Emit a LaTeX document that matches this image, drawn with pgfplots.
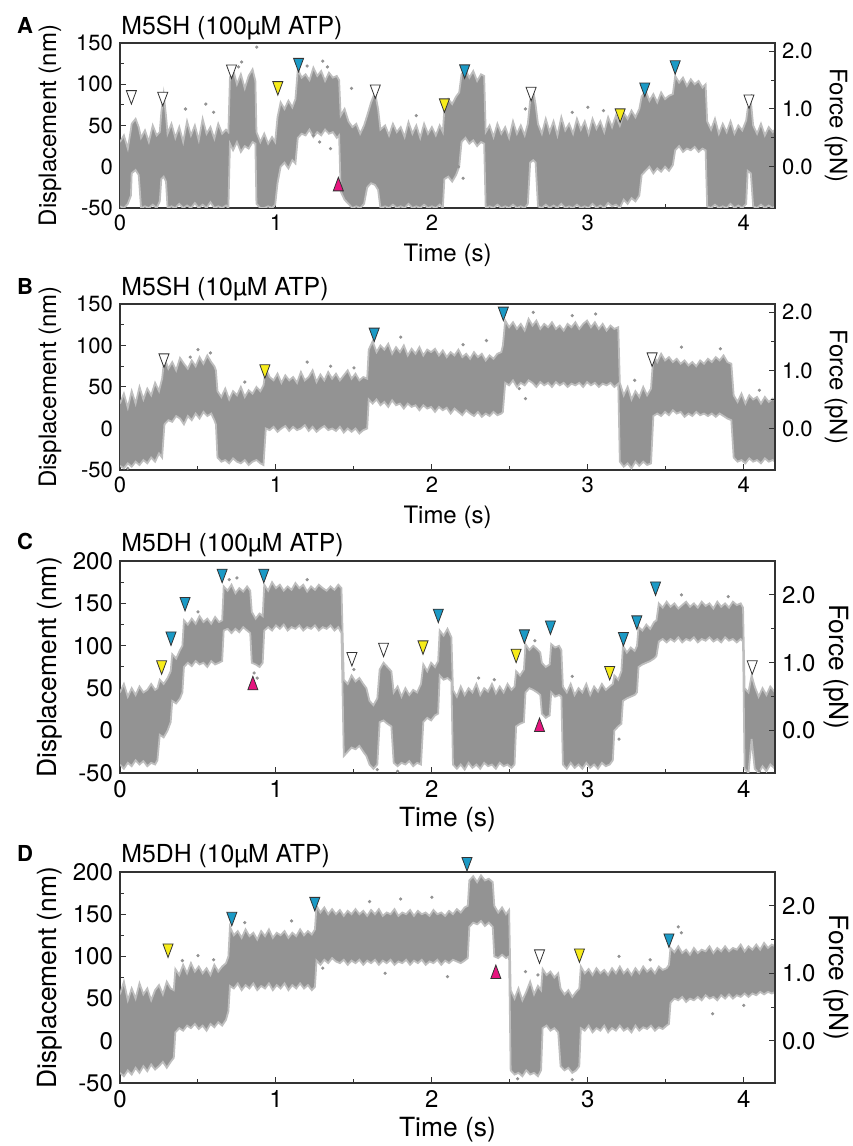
\documentclass[border=0pt]{standalone}
\usepackage{fontspec}
\setmainfont{TeX Gyre Heros}
\usepackage{pgfplots}
\pgfplotsset{compat=1.18}
\usepackage{pgfplotstable}
\usepgfplotslibrary{fillbetween}

\definecolor{trace}{HTML}{939393}
\definecolor{tblue}{HTML}{1B9AC6}
\definecolor{tyellow}{HTML}{F7EC1A}
\definecolor{tpink}{HTML}{E6157F}
\definecolor{edge}{HTML}{333333}

\pgfplotsset{
  panel/.style={scale only axis, width=327.5pt,
    xmin=0, xmax=4.2, xtick={0,...,4}, minor x tick num=1, minor y tick num=1,
    xtick pos=left, ytick pos=left, tick align=inside,
    major tick length=3pt, minor tick length=1.8pt,
    axis line style={line width=0.6pt, edge}, tick style={edge, line width=0.5pt},
    /pgf/number format/assume math mode=true,
    xlabel={Time (s)}, ylabel={Displacement (nm)},
    xlabel style={at={(axis description cs:0.5,0)}, anchor=center, yshift=-23.5pt},
    ylabel style={at={(axis description cs:-0.107,0.5)}, anchor=center}},
  forceax/.style={scale only axis, width=327.5pt,
    xmin=0, xmax=4.2, axis x line=none, axis y line*=right,
    ytick={0,1,2}, minor y tick num=1, tick align=inside,
    major tick length=3pt, minor tick length=1.8pt,
    axis line style={line width=0.6pt, edge}, tick style={edge, line width=0.5pt},
    /pgf/number format/assume math mode=true,
    yticklabel style={/pgf/number format/.cd, fixed, fixed zerofill, precision=1},
    ylabel={Force (pN)},
    ylabel style={at={(axis description cs:1.093,0.5)}, anchor=center, rotate=180}},
  small/.style={tick label style={font=\fontsize{11pt}{13pt}\selectfont},
    label style={font=\fontsize{12pt}{14pt}\selectfont}},
  large/.style={tick label style={font=\fontsize{12pt}{14pt}\selectfont},
    label style={font=\fontsize{13.2pt}{15pt}\selectfont}},
  trc/.style={draw=trace!60, line width=0.9pt},
  dots/.style={only marks, mark=*, mark size=0.6pt, trace},
  mk/.style={only marks, mark=triangle*, mark size=2.9pt,
    mark options={yscale=-1.55, draw=edge, line width=0.4pt, fill=#1}},
  mkup/.style={only marks, mark=triangle*, mark size=2.9pt,
    mark options={yscale=1.55, draw=edge, line width=0.4pt, fill=#1}},
}

% trace envelopes: time (s), lower and upper displacement (nm)
\pgfplotstableread{
t lo hi
0.000 -48 30
0.025 -50 38
0.050 -45 22
0.070 -35 45
0.075 -8 52
0.100 -4 58
0.120 -10 48
0.135 -50 35
0.160 -48 44
0.185 -50 30
0.210 -46 50
0.235 -50 38
0.255 -42 42
0.265 -15 66
0.280 -12 88
0.295 -18 62
0.305 -50 40
0.330 -48 52
0.355 -50 35
0.380 -45 48
0.405 -50 30
0.430 -47 55
0.455 -50 38
0.480 -44 50
0.505 -50 32
0.530 -46 58
0.555 -50 40
0.580 -43 48
0.605 -50 34
0.630 -48 52
0.655 -50 40
0.680 -47 45
0.695 -50 42
0.705 28 108
0.725 20 118
0.750 30 100
0.775 18 112
0.800 25 95
0.825 22 110
0.850 30 118
0.868 28 104
0.875 -45 42
0.900 -50 30
0.925 -50 40
0.950 -48 28
0.975 -50 36
0.995 -46 30
1.010 -20 60
1.030 0 78
1.055 5 70
1.080 -2 80
1.105 8 72
1.125 4 82
1.140 35 118
1.165 40 108
1.190 38 112
1.215 45 105
1.240 36 120
1.265 42 110
1.290 38 116
1.315 45 104
1.340 40 114
1.365 42 108
1.390 35 110
1.405 38 105
1.415 -30 62
1.440 -40 70
1.465 -45 55
1.490 -50 48
1.515 -48 52
1.540 -50 40
1.565 -45 50
1.585 -25 62
1.610 -20 78
1.635 -22 90
1.655 -28 70
1.670 -50 45
1.700 -48 50
1.725 -50 38
1.750 -46 52
1.775 -50 42
1.800 -48 48
1.825 -50 36
1.850 -45 54
1.875 -50 40
1.900 -48 50
1.925 -50 35
1.950 -46 52
1.975 -50 40
2.000 -48 48
2.025 -50 38
2.050 -46 50
2.070 -50 42
2.080 -15 70
2.105 -12 82
2.130 -18 76
2.155 -10 85
2.175 0 90
2.190 30 112
2.215 35 118
2.240 28 108
2.265 32 116
2.290 25 104
2.315 30 112
2.335 28 110
2.345 -50 42
2.370 -48 50
2.395 -50 36
2.420 -46 52
2.445 -50 40
2.470 -48 48
2.495 -50 35
2.520 -46 55
2.545 -50 40
2.570 -48 50
2.595 -50 38
2.615 -45 52
2.630 5 80
2.650 8 92
2.665 5 75
2.680 -48 52
2.705 -50 40
2.730 -46 58
2.755 -50 42
2.780 -47 55
2.805 -50 38
2.830 -45 60
2.855 -50 44
2.880 -48 52
2.905 -50 40
2.930 -46 58
2.955 -50 45
2.980 -48 55
3.005 -50 40
3.030 -45 58
3.055 -50 46
3.080 -47 55
3.105 -50 42
3.130 -44 60
3.155 -48 48
3.180 -46 62
3.205 -50 50
3.230 -40 65
3.255 -45 58
3.280 -38 68
3.305 -42 60
3.330 -35 70
3.345 -10 85
3.370 -5 92
3.395 0 80
3.420 -8 88
3.445 -2 78
3.470 -6 90
3.495 0 82
3.520 -5 86
3.545 2 88
3.560 20 110
3.585 25 102
3.610 18 108
3.635 22 98
3.660 20 106
3.685 24 100
3.710 18 104
3.735 22 96
3.755 20 100
3.765 -48 55
3.790 -50 45
3.815 -46 58
3.840 -50 40
3.865 -48 52
3.890 -50 42
3.915 -45 55
3.940 -50 40
3.965 -47 50
3.990 -50 44
4.015 -45 56
4.025 -5 70
4.045 -8 80
4.060 -48 50
4.085 -50 40
4.110 -46 52
4.135 -50 38
4.160 -47 48
4.185 -50 42
4.200 -48 45
}\dA

\pgfplotstableread{
t lo hi
0.000 -45 30
0.025 -48 42
0.050 -42 25
0.075 -46 45
0.100 -40 30
0.125 -44 50
0.150 -38 35
0.175 -42 48
0.200 -35 40
0.225 -40 55
0.250 -30 45
0.270 -35 60
0.285 5 85
0.310 10 72
0.335 8 80
0.360 15 70
0.385 12 85
0.410 5 78
0.435 15 72
0.460 10 82
0.485 18 75
0.510 12 86
0.535 20 78
0.560 15 88
0.585 18 80
0.605 10 75
0.615 5 70
0.625 -35 45
0.650 -40 38
0.675 -38 48
0.700 -42 35
0.725 -36 45
0.750 -40 40
0.775 -42 50
0.800 -38 38
0.825 -44 46
0.850 -40 42
0.875 -38 50
0.900 -42 45
0.920 -44 52
0.935 0 72
0.960 -2 62
0.985 2 58
1.010 -4 66
1.035 0 55
1.060 3 64
1.085 -3 58
1.110 2 62
1.135 -2 55
1.160 0 68
1.185 4 58
1.210 -3 62
1.235 2 70
1.260 -4 56
1.285 0 65
1.310 3 58
1.335 -2 68
1.360 0 60
1.385 -3 66
1.410 2 58
1.435 -5 64
1.460 0 70
1.485 -4 60
1.510 0 66
1.535 -6 58
1.560 -2 62
1.585 0 60
1.595 35 95
1.620 30 105
1.645 35 92
1.670 28 100
1.695 32 95
1.720 26 102
1.745 34 90
1.770 28 98
1.795 30 92
1.820 24 100
1.845 30 88
1.870 26 96
1.895 28 90
1.920 22 98
1.945 28 88
1.970 24 95
1.995 26 92
2.020 20 96
2.045 26 88
2.070 22 94
2.095 25 86
2.120 18 92
2.145 24 88
2.170 20 95
2.195 16 86
2.220 22 90
2.245 18 84
2.270 15 92
2.295 20 86
2.320 14 90
2.345 18 82
2.370 15 88
2.395 20 84
2.420 16 90
2.445 18 92
2.455 20 100
2.470 55 130
2.495 52 122
2.520 58 128
2.545 50 120
2.570 55 126
2.595 52 118
2.620 58 132
2.645 55 124
2.670 50 130
2.695 56 120
2.720 52 126
2.745 55 122
2.770 50 128
2.795 56 120
2.820 52 124
2.845 55 118
2.870 50 126
2.895 54 122
2.920 52 128
2.945 55 120
2.970 50 126
2.995 56 130
3.020 52 122
3.045 55 128
3.070 50 120
3.095 54 126
3.120 52 118
3.145 55 124
3.170 50 120
3.195 54 122
3.205 -40 55
3.230 -46 40
3.255 -42 50
3.280 -48 35
3.305 -40 45
3.330 -45 38
3.355 -40 50
3.380 -44 40
3.405 -42 48
3.420 15 88
3.445 18 80
3.470 15 90
3.495 20 82
3.520 16 86
3.545 22 80
3.570 18 84
3.595 20 78
3.620 14 82
3.645 18 76
3.670 15 80
3.695 20 75
3.720 16 82
3.745 18 78
3.770 15 84
3.795 18 80
3.820 14 86
3.845 18 82
3.870 15 88
3.895 12 80
3.920 10 78
3.935 -35 40
3.960 -40 32
3.985 -38 42
4.010 -42 30
4.035 -36 40
4.060 -40 35
4.085 -38 38
4.110 -42 30
4.135 -36 38
4.160 -40 32
4.185 -38 36
4.200 -40 34
}\dB

\pgfplotstableread{
t lo hi
0.000 -40 45
0.025 -45 55
0.050 -38 40
0.075 -42 50
0.100 -35 42
0.125 -40 52
0.150 -36 45
0.175 -42 48
0.200 -38 55
0.225 -40 48
0.240 -35 50
0.255 -5 60
0.280 -8 55
0.305 0 62
0.325 10 70
0.335 35 90
0.360 32 85
0.385 38 95
0.400 45 100
0.410 75 130
0.435 80 125
0.460 76 132
0.485 82 126
0.510 78 135
0.535 80 128
0.560 75 132
0.585 82 126
0.610 78 134
0.635 80 128
0.655 82 130
0.665 118 170
0.690 120 165
0.715 115 172
0.740 120 162
0.765 116 168
0.790 122 164
0.815 118 170
0.835 115 165
0.845 80 140
0.870 78 132
0.895 75 138
0.915 80 135
0.925 118 172
0.950 122 165
0.975 118 175
1.000 124 168
1.025 120 172
1.050 125 165
1.075 118 170
1.100 122 166
1.125 120 174
1.150 124 168
1.175 118 172
1.200 122 164
1.225 120 170
1.250 124 166
1.275 118 172
1.300 122 168
1.325 120 165
1.350 124 170
1.375 118 166
1.400 122 172
1.420 115 168
1.435 -30 60
1.460 -25 55
1.485 -20 65
1.510 -22 58
1.535 -18 62
1.560 -25 55
1.580 -30 50
1.600 -40 35
1.625 -45 30
1.650 -40 38
1.665 10 72
1.690 12 80
1.715 8 75
1.740 5 70
1.755 -38 45
1.780 -42 52
1.805 -38 40
1.830 -40 50
1.855 -36 42
1.880 -42 48
1.905 -38 45
1.930 -40 55
1.945 10 78
1.970 15 70
1.995 12 80
2.020 18 75
2.040 20 82
2.050 65 118
2.075 60 112
2.100 62 120
2.125 58 110
2.135 -40 48
2.160 -45 40
2.185 -40 52
2.210 -46 42
2.235 -38 50
2.260 -44 45
2.285 -40 55
2.310 -45 42
2.335 -38 50
2.360 -42 46
2.385 -40 55
2.410 -45 44
2.435 -38 52
2.460 -42 45
2.485 -40 55
2.510 -44 48
2.530 -40 52
2.540 5 70
2.565 8 65
2.590 10 72
2.600 45 102
2.625 50 95
2.650 48 100
2.675 45 96
2.695 42 92
2.705 20 80
2.730 15 75
2.755 18 78
2.765 45 102
2.790 40 98
2.815 42 100
2.830 40 95
2.840 -40 52
2.865 -45 45
2.890 -38 55
2.915 -44 42
2.940 -40 50
2.965 -45 45
2.990 -38 55
3.015 -44 42
3.040 -40 52
3.065 -45 46
3.090 -38 55
3.115 -42 48
3.140 -40 52
3.160 -35 55
3.170 0 65
3.195 5 60
3.215 8 70
3.225 35 100
3.250 38 92
3.275 40 98
3.300 42 94
3.315 45 100
3.325 75 122
3.350 78 118
3.375 80 125
3.400 82 120
3.425 85 128
3.440 88 130
3.455 105 150
3.480 108 145
3.505 104 152
3.530 108 146
3.555 105 150
3.580 110 144
3.605 104 148
3.630 108 152
3.655 106 146
3.680 110 150
3.705 104 145
3.730 108 152
3.755 106 147
3.780 110 150
3.805 105 144
3.830 108 152
3.855 104 146
3.880 110 150
3.905 106 145
3.930 108 152
3.955 104 148
3.980 108 150
3.995 105 145
4.005 -45 50
4.030 -50 45
4.050 -10 65
4.070 -45 52
4.095 -50 40
4.120 -42 50
4.145 -48 42
4.170 -40 52
4.200 -45 45
}\dC

\pgfplotstableread{
t lo hi
0.000 -38 55
0.025 -42 70
0.050 -35 48
0.075 -40 62
0.100 -32 50
0.125 -38 68
0.150 -30 55
0.175 -36 62
0.200 -28 48
0.225 -34 60
0.250 -30 66
0.275 -25 55
0.300 -32 70
0.325 -25 62
0.345 -20 60
0.355 10 85
0.380 15 78
0.405 12 90
0.430 18 80
0.455 15 92
0.480 20 82
0.505 14 88
0.530 18 80
0.555 12 86
0.580 20 78
0.605 16 90
0.630 22 82
0.655 18 88
0.680 25 92
0.695 35 100
0.705 65 135
0.730 62 125
0.755 68 130
0.780 60 122
0.805 66 132
0.830 62 124
0.855 68 128
0.880 60 120
0.905 65 130
0.930 62 124
0.955 68 132
0.980 60 122
1.005 66 128
1.030 62 125
1.055 68 130
1.080 60 122
1.105 66 128
1.130 62 124
1.155 68 132
1.180 62 125
1.205 66 130
1.230 60 126
1.250 64 132
1.260 95 160
1.285 90 152
1.310 96 158
1.335 92 150
1.360 98 156
1.385 94 150
1.410 92 155
1.435 96 148
1.460 90 154
1.485 95 150
1.510 92 156
1.535 96 150
1.560 90 154
1.585 95 148
1.610 92 155
1.635 96 150
1.660 90 156
1.685 95 148
1.710 92 152
1.735 96 150
1.760 90 156
1.785 94 148
1.810 92 152
1.835 96 150
1.860 90 155
1.885 95 148
1.910 92 154
1.935 96 150
1.960 90 152
1.985 94 148
2.010 92 155
2.035 96 150
2.060 90 152
2.085 95 148
2.110 92 154
2.135 96 150
2.160 94 156
2.185 92 152
2.210 95 158
2.230 98 160
2.240 135 190
2.265 140 195
2.290 138 188
2.315 142 196
2.340 136 190
2.365 140 192
2.390 135 188
2.400 100 160
2.425 98 152
2.450 102 158
2.475 98 150
2.495 100 155
2.505 -35 60
2.530 -40 50
2.555 -38 62
2.580 -42 48
2.605 -35 58
2.630 -40 70
2.655 -38 55
2.680 -42 65
2.700 -35 60
2.710 15 85
2.735 18 78
2.760 12 82
2.785 15 75
2.810 10 80
2.825 -30 62
2.850 -35 55
2.875 -32 60
2.900 -38 52
2.925 -35 58
2.945 -30 62
2.955 15 88
2.980 12 80
3.005 18 85
3.030 10 78
3.055 15 86
3.080 12 80
3.105 18 84
3.130 10 78
3.155 15 86
3.180 12 80
3.205 18 88
3.230 12 80
3.255 15 85
3.280 10 78
3.305 18 86
3.330 12 80
3.355 16 88
3.380 14 82
3.405 18 86
3.430 12 80
3.455 16 88
3.480 14 84
3.505 18 86
3.520 20 90
3.530 45 110
3.555 50 105
3.580 48 112
3.605 52 104
3.630 46 108
3.655 50 102
3.680 48 110
3.705 52 104
3.730 48 108
3.755 54 106
3.780 50 112
3.805 52 104
3.830 48 110
3.855 54 106
3.880 50 112
3.905 55 106
3.930 50 110
3.955 54 108
3.980 52 114
4.005 56 106
4.030 52 112
4.055 56 108
4.080 54 114
4.105 58 108
4.130 55 116
4.155 58 110
4.180 56 114
4.200 58 112
}\dD

\begin{document}
\begin{tikzpicture}[font=\fontsize{12pt}{14pt}\selectfont]

% ---------- A ----------
\node[anchor=base west, font=\fontsize{11pt}{13pt}\selectfont\bfseries] at (5pt,556pt) {A};
\begin{axis}[panel, small, at={(60pt,469pt)}, anchor=south west, height=82.5pt,
  ymin=-50, ymax=150, ytick={-50,0,...,150}]
  \addplot[trc, name path=aH] table[x=t,y=hi]{\dA};
  \addplot[trc, name path=aL] table[x=t,y=lo]{\dA};
  \addplot[trace] fill between[of=aH and aL];
  \addplot[dots] coordinates {(0.877,145)(0.78,127)(0.76,121)(1.2,122)(1.3,128)(1.33,121)
    (1.485,95)(0.55,76)(0.42,70)(1.24,38)(1.28,30)(1.35,22)(2.17,0)(2.2,-14)(2.6,70)
    (3.0,72)(3.1,68)(2.9,66)(3.45,18)(3.5,8)(3.7,38)(3.65,28)(4.05,86)(0.6,66)(1.9,62)};
  \addplot[mk=white] coordinates {(0.073,86.8)(0.274,84.8)(0.715,117.8)(1.637,93.7)(2.636,90.8)(4.033,81.6)};
  \addplot[mk=tyellow] coordinates {(1.012,97.7)(2.08,76.8)(3.207,64.7)};
  \addplot[mk=tblue] coordinates {(1.145,125.9)(2.21,118)(3.365,96)(3.56,123)};
  \addplot[mkup=tpink] coordinates {(1.40,-23.8)};
\end{axis}
\node[anchor=base west, inner sep=0pt, font=\fontsize{12.4pt}{14pt}\selectfont] at (60.5pt,555.8pt) {M5SH (100µM ATP)};
\begin{axis}[forceax, small, at={(60pt,469pt)}, anchor=south west, height=82.5pt,
  ymin=-0.7143, ymax=2.1429]
  \addplot[draw=none] coordinates {(0,0)(4.2,1)};
\end{axis}

% ---------- B ----------
\node[anchor=base west, font=\fontsize{11pt}{13pt}\selectfont\bfseries] at (5pt,425.5pt) {B};
\begin{axis}[panel, small, at={(60pt,338pt)}, anchor=south west, height=83pt,
  ymin=-50, ymax=150, ytick={-50,0,...,150}]
  \addplot[trc, name path=bH] table[x=t,y=hi]{\dB};
  \addplot[trc, name path=bL] table[x=t,y=lo]{\dB};
  \addplot[trace] fill between[of=bH and bL];
  \addplot[dots] coordinates {(0.5,95)(0.58,91)(0.45,86)(1.2,80)(1.35,75)(1.5,73)(1.8,110)
    (2.2,101)(2.35,106)(2.65,140)(2.9,136)(3.05,138)(2.56,48)(2.6,36)(3.6,98)(3.85,96)
    (0.05,-48)(0.8,56)(3.3,58)(4.1,46)};
  \addplot[mk=white] coordinates {(0.282,84.5)(3.412,85.7)};
  \addplot[mk=tyellow] coordinates {(0.929,71.3)};
  \addplot[mk=tblue] coordinates {(1.63,115.5)(2.458,140.8)};
\end{axis}
\node[anchor=base west, inner sep=0pt, font=\fontsize{12.4pt}{14pt}\selectfont] at (60.5pt,425.3pt) {M5SH (10µM ATP)};
\begin{axis}[forceax, small, at={(60pt,338pt)}, anchor=south west, height=83pt,
  ymin=-0.7143, ymax=2.1429]
  \addplot[draw=none] coordinates {(0,0)(4.2,1)};
\end{axis}

% ---------- C ----------
\node[anchor=base west, font=\fontsize{11pt}{13pt}\selectfont\bfseries] at (5pt,298pt) {C};
\begin{axis}[panel, large, at={(60pt,186.5pt)}, anchor=south west, height=106pt,
  ymin=-50, ymax=200, ytick={-50,0,...,200}]
  \addplot[trc, name path=cH] table[x=t,y=hi]{\dC};
  \addplot[trc, name path=cL] table[x=t,y=lo]{\dC};
  \addplot[trace] fill between[of=cH and cL];
  \addplot[dots] coordinates {(0.75,180)(0.7,178)(1.5,72)(0.88,62)(0.86,68)(1.65,-46)
    (1.78,-48)(2.3,62)(2.4,60)(3.6,160)(3.9,158)(3.2,-10)(1.2,178)(0.5,140)(2.9,64)
    (4.1,-48)(2.66,106)};
  \addplot[mk=white] coordinates {(1.487,86.8)(1.69,97.8)(4.054,77)};
  \addplot[mk=tyellow] coordinates {(0.267,77)(1.943,100.5)(2.54,90.7)(3.14,70.3)};
  \addplot[mk=tblue] coordinates {(0.327,111)(0.417,151.7)(0.655,185)(0.922,185)(2.041,137.9)(2.593,113.5)(2.76,124)(3.228,110.4)(3.314,130)(3.434,170)};
  \addplot[mkup=tpink] coordinates {(0.852,53.4)(2.69,4.2)};
\end{axis}
\node[anchor=base west, inner sep=0pt, font=\fontsize{12.4pt}{14pt}\selectfont] at (60.5pt,297pt) {M5DH (100µM ATP)};
\begin{axis}[forceax, large, at={(60pt,186.5pt)}, anchor=south west, height=106pt,
  ymin=-0.625, ymax=2.5]
  \addplot[draw=none] coordinates {(0,0)(4.2,1)};
\end{axis}

% ---------- D ----------
\node[anchor=base west, font=\fontsize{11pt}{13pt}\selectfont\bfseries] at (5pt,142pt) {D};
\begin{axis}[panel, large, at={(60pt,31.5pt)}, anchor=south west, height=105.5pt,
  ymin=-50, ymax=200, ytick={-50,0,...,200}]
  \addplot[trc, name path=dH] table[x=t,y=hi]{\dD};
  \addplot[trc, name path=dL] table[x=t,y=lo]{\dD};
  \addplot[trace] fill between[of=dH and dL];
  \addplot[dots] coordinates {(0.4,95)(0.5,101)(0.6,96)(0.8,140)(1.1,142)(1.6,165)(1.8,168)
    (2.0,170)(1.7,80)(2.1,76)(2.6,82)(2.68,78)(3.2,100)(3.4,96)(3.58,135)(3.6,128)
    (3.8,32)(4.0,42)(2.55,-45)(2.9,-46)(1.3,86)};
  \addplot[mk=white] coordinates {(2.69,102.4)};
  \addplot[mk=tyellow] coordinates {(0.308,109.4)(2.946,103.5)};
  \addplot[mk=tblue] coordinates {(0.717,146.9)(1.249,164.6)(3.52,121.3)};
  \addplot[mkup=tpink] coordinates {(2.41,79.1)};
\end{axis}
\node[anchor=base west, inner sep=0pt, font=\fontsize{12.4pt}{14pt}\selectfont] at (60.5pt,141.5pt) {M5DH (10µM ATP)};
% force axis; the blue step marker above the frame (211.8 nm = 2.65 pN) sits here, unclipped
\begin{axis}[forceax, large, at={(60pt,31.5pt)}, anchor=south west, height=105.5pt,
  ymin=-0.625, ymax=2.5, clip=false]
  \addplot[draw=none] coordinates {(0,0)(4.2,1)};
  \addplot[mk=tblue] coordinates {(2.225,2.6475)};
\end{axis}

\pgfresetboundingbox
\path[use as bounding box] (0,0) rectangle (426pt,573pt);
\end{tikzpicture}
\end{document}
